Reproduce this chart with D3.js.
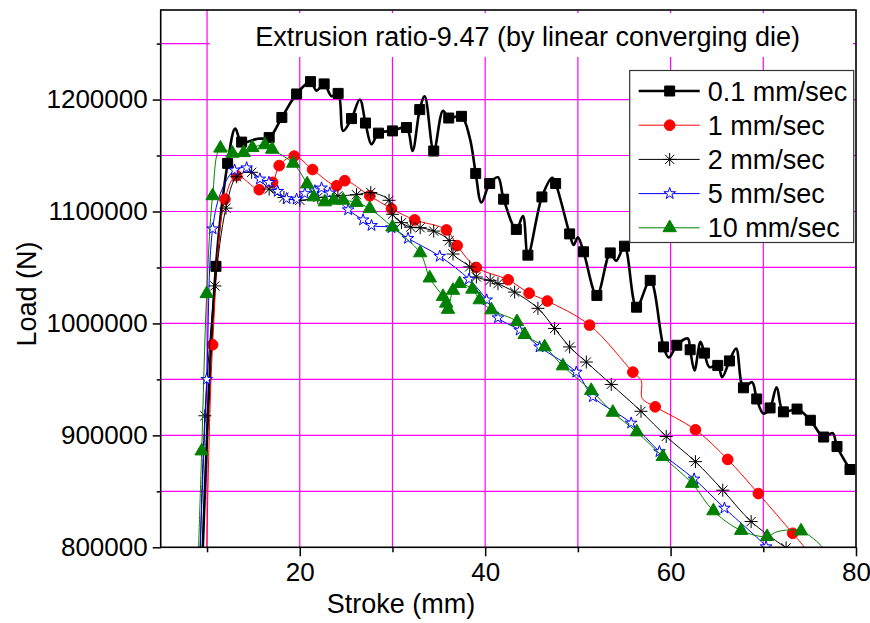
<!DOCTYPE html>
<html>
<head>
<meta charset="utf-8">
<script src="https://cdn.jsdelivr.net/npm/d3@7"></script>
<style>
  body { margin: 0; background: #fff; }
  svg { display: block; font-family: 'Liberation Sans', Arial, sans-serif; }
</style>
</head>
<body>
<div id="chart"></div>
<script>
// each row: [stroke (mm), load (N), 1 = marker drawn]
const speed01 = [
  [9.5, 790000, 0], [10.96, 1051000, 1], [12.22, 1143000, 1], [13.04, 1174000, 0],
  [13.73, 1162000, 1], [15.48, 1165000, 0], [16.70, 1166000, 1], [18.07, 1184000, 1],
  [19.66, 1205000, 1], [21.16, 1216000, 1], [21.81, 1208000, 0], [22.63, 1214000, 1],
  [23.43, 1203000, 0], [24.14, 1205500, 1], [24.68, 1172000, 0], [25.58, 1183000, 1],
  [26.48, 1200000, 0], [27.09, 1179000, 1], [27.74, 1160000, 0], [28.49, 1170000, 1],
  [30.00, 1172000, 1], [31.51, 1175000, 1], [32.16, 1154000, 0], [32.94, 1191000, 1],
  [33.48, 1203000, 0], [34.45, 1154000, 1], [35.45, 1190000, 0], [36.07, 1183500, 1],
  [37.44, 1185000, 1], [38.33, 1166000, 0], [38.98, 1134000, 1], [39.59, 1108000, 0],
  [40.49, 1125000, 1], [41.38, 1130500, 0], [41.99, 1111000, 1], [43.36, 1084000, 1],
  [44.07, 1096000, 0], [44.61, 1061000, 1], [46.12, 1113000, 1], [47.24, 1130000, 0],
  [47.60, 1125000, 1], [49.11, 1080000, 1], [49.54, 1070000, 0], [50.00, 1077000, 0],
  [50.61, 1064000, 1], [52.05, 1025000, 1], [53.49, 1063000, 1], [54.14, 1056000, 0],
  [55.03, 1069000, 1], [56.33, 1014500, 1], [57.80, 1038500, 1], [59.24, 979000, 1],
  [59.81, 969500, 0], [60.67, 980500, 1], [61.85, 986500, 0], [62.11, 976500, 1],
  [62.58, 958000, 0], [63.22, 983500, 0], [63.65, 973500, 1], [64.19, 961000, 0],
  [65.09, 962500, 1], [65.56, 952000, 0], [66.35, 966500, 1], [67.07, 977500, 0],
  [67.86, 942500, 1], [68.79, 947500, 0], [69.29, 932500, 1], [70.01, 919500, 0],
  [70.73, 924500, 1], [71.44, 943000, 0], [72.17, 921000, 1], [73.64, 923500, 1],
  [75.08, 913500, 1], [76.51, 898500, 1], [77.48, 902000, 0], [77.95, 890000, 1],
  [79.35, 869500, 1]
];
const speed1 = [
  [9.95, 790000, 0], [10.60, 981000, 1], [11.93, 1111000, 1], [13.19, 1132000, 1],
  [15.63, 1119500, 1], [17.07, 1126000, 1], [17.78, 1141000, 1], [19.40, 1149500, 1],
  [21.38, 1137500, 1], [23.97, 1123000, 1], [24.86, 1127500, 1], [27.55, 1114000, 1],
  [29.89, 1102500, 1], [32.40, 1092500, 1], [35.82, 1083500, 1], [36.98, 1069500, 1],
  [39.05, 1050000, 1], [42.48, 1039000, 1], [44.74, 1027000, 1], [46.70, 1020000, 1],
  [51.26, 998500, 1], [55.93, 956500, 1], [56.83, 949000, 0], [56.94, 933000, 0],
  [58.34, 925500, 1], [62.68, 905000, 1], [66.16, 878500, 1], [69.47, 848000, 1],
  [73.17, 812500, 1], [74.43, 800000, 0], [74.9, 793000, 0]
];
const speed2 = [
  [9.25, 790000, 0], [9.77, 917500, 1], [10.85, 1033500, 1], [12.04, 1103000, 1],
  [13.19, 1131000, 1], [14.81, 1135000, 1], [16.70, 1120000, 1], [18.29, 1112500, 1],
  [20.01, 1110000, 1], [21.95, 1112500, 1], [24.11, 1114000, 1], [26.12, 1115000, 1],
  [27.66, 1117000, 1], [29.63, 1110000, 1], [30.00, 1097500, 1], [30.97, 1090000, 1],
  [31.97, 1086000, 1], [32.99, 1085500, 1], [34.45, 1082500, 1], [36.12, 1074000, 1],
  [36.53, 1062000, 1], [38.33, 1050500, 1], [39.05, 1041500, 1], [40.54, 1038500, 1],
  [41.38, 1035500, 1], [43.18, 1028000, 1], [45.69, 1013500, 1], [47.49, 995500, 1],
  [49.11, 979000, 1], [50.91, 965500, 1], [53.60, 945500, 1], [56.81, 921500, 1],
  [59.53, 899000, 1], [62.68, 876500, 1], [65.63, 851000, 1], [68.69, 823000, 1],
  [72.46, 799500, 1]
];
const speed5 = [
  [9.2, 790000, 0], [9.96, 950000, 1], [10.60, 1084500, 1], [11.55, 1118500, 0],
  [12.97, 1137000, 1], [14.27, 1139000, 1], [15.70, 1129000, 1], [16.67, 1126000, 1],
  [17.62, 1118000, 1], [18.58, 1111500, 1], [19.66, 1111000, 1], [20.55, 1116000, 1],
  [21.63, 1118500, 1], [22.35, 1121000, 1], [23.24, 1116500, 1], [25.22, 1101500, 1],
  [26.83, 1092500, 1], [27.74, 1087500, 1], [29.89, 1085500, 1], [31.68, 1076000, 1],
  [35.10, 1060000, 1], [38.25, 1039500, 1], [40.16, 1021000, 1], [41.38, 1005000, 1],
  [43.72, 994000, 1], [45.87, 979000, 1], [49.83, 956500, 1], [51.62, 934500, 1],
  [55.75, 911000, 1], [58.80, 885500, 1], [62.54, 861000, 1], [65.81, 835000, 1],
  [70.30, 800500, 1], [70.6, 796000, 0]
];
const speed10 = [
  [9.05, 790000, 0], [9.42, 886000, 1], [9.96, 1026500, 1], [10.60, 1114000, 1],
  [11.44, 1156500, 1], [12.74, 1152000, 1], [13.95, 1152500, 1], [14.89, 1157000, 1],
  [16.24, 1159500, 1], [17.02, 1155500, 1], [19.29, 1143000, 1], [20.80, 1124500, 1],
  [21.52, 1113000, 1], [22.70, 1108500, 1], [23.64, 1110000, 1], [24.68, 1110000, 1],
  [26.12, 1108000, 1], [27.55, 1102500, 1], [30.00, 1086000, 1], [32.99, 1063000, 1],
  [34.02, 1040500, 1], [35.45, 1024000, 1], [35.80, 1018000, 1], [35.99, 1012500, 1],
  [36.53, 1029500, 1], [37.25, 1035500, 1], [38.62, 1030500, 1], [39.41, 1021000, 1],
  [40.67, 1012000, 1], [43.43, 1001500, 1], [44.26, 990000, 1], [46.41, 979000, 1],
  [48.38, 962000, 1], [51.44, 940000, 1], [53.77, 920500, 1], [56.36, 903000, 1],
  [59.16, 881000, 1], [62.33, 857000, 1], [64.62, 832500, 1], [67.61, 815000, 1],
  [70.41, 809500, 1], [71.5, 814000, 0], [74.07, 814500, 1], [76.40, 800000, 0],
  [76.6, 797000, 0]
];

const seriesNames = ['0.1 mm/sec', '1 mm/sec', '2 mm/sec', '5 mm/sec', '10 mm/sec'];
const xMajor = [20, 40, 60, 80];
const xMinor = [10, 30, 50, 70];
const yMajor = [800000, 900000, 1000000, 1100000, 1200000];
const yMinor = [850000, 950000, 1050000, 1150000, 1250000];
const xGrid = [10, 20, 30, 40, 50, 60, 70];
const yGrid = [850000, 900000, 950000, 1000000, 1050000, 1100000, 1150000, 1200000, 1250000];
const chartTitle = 'Extrusion ratio-9.47 (by linear converging die)';

const W = 870, H = 623;
const margin = { top: 10, right: 14, bottom: 75.7, left: 160.7 };
const width = W - margin.left - margin.right;
const height = H - margin.top - margin.bottom;

const svg = d3.select('#chart').append('svg')
  .attr('width', W)
  .attr('height', H);

const x = d3.scaleLinear().domain([5, 80]).range([0, width]);
const y = d3.scaleLinear().domain([800000, 1280000]).range([height, 0]);

const g = svg.append('g')
  .attr('transform', `translate(${margin.left},${margin.top})`);

g.append('clipPath').attr('id', 'plot-clip')
  .append('rect').attr('width', width).attr('height', height);

// magenta grid
g.append('g').selectAll('line').data(xGrid).enter().append('line')
  .attr('x1', d => x(d)).attr('x2', d => x(d))
  .attr('y1', 0).attr('y2', height)
  .attr('stroke', '#ff00ff').attr('stroke-width', 1.2);
g.append('g').selectAll('line').data(yGrid).enter().append('line')
  .attr('x1', 0).attr('x2', width)
  .attr('y1', d => y(d)).attr('y2', d => y(d))
  .attr('stroke', '#ff00ff').attr('stroke-width', 1.2);

// title box sits over the grid
g.append('rect')
  .attr('x', 49).attr('y', 3)
  .attr('width', width - 52).attr('height', 44)
  .attr('fill', '#fff');
g.append('text')
  .attr('x', 367).attr('y', 36)
  .attr('text-anchor', 'middle')
  .attr('font-size', 27)
  .text(chartTitle);

// marker shapes
function asterisk(r) {
  const d = r * Math.SQRT1_2;
  return `M0,${-r}L0,${r}M${-r},0L${r},0M${-d},${-d}L${d},${d}M${-d},${d}L${d},${-d}`;
}
const styles = [
  { data: speed01, color: '#000', lw: 2.6, path: d3.symbol(d3.symbolSquare, 100)(), fill: '#000' },
  { data: speed1, color: '#ff0000', lw: 1, path: d3.symbol(d3.symbolCircle, 90)(), fill: '#ff0000' },
  { data: speed2, color: '#000', lw: 1, path: asterisk(6.5), fill: 'none' },
  { data: speed5, color: '#0000ff', lw: 1, path: d3.symbol(d3.symbolStar, 42)(), fill: '#fff' },
  { data: speed10, color: '#008000', lw: 1, path: d3.symbol(d3.symbolTriangle, 78)(), fill: '#008000' }
];

const line = d3.line()
  .x(d => x(d[0]))
  .y(d => y(d[1]))
  .curve(d3.curveCatmullRom.alpha(0.5));

const plot = g.append('g').attr('clip-path', 'url(#plot-clip)');
styles.forEach(s => {
  plot.append('path')
    .datum(s.data)
    .attr('d', line)
    .attr('fill', 'none')
    .attr('stroke', s.color)
    .attr('stroke-width', s.lw);
  plot.append('g').selectAll('path')
    .data(s.data.filter(d => d[2]))
    .enter().append('path')
    .attr('transform', d => `translate(${x(d[0])},${y(d[1])})`)
    .attr('d', s.path)
    .attr('fill', s.fill)
    .attr('stroke', s.color)
    .attr('stroke-width', 1);
});

// legend
const legend = g.append('g').attr('transform', 'translate(469,60.5)');
legend.append('rect')
  .attr('width', 224).attr('height', 172)
  .attr('fill', '#fff').attr('stroke', '#333').attr('stroke-width', 1.2);
styles.forEach((s, i) => {
  const ly = 20.5 + i * 34.2;
  legend.append('line')
    .attr('x1', 9).attr('x2', 70).attr('y1', ly).attr('y2', ly)
    .attr('stroke', s.color).attr('stroke-width', s.lw);
  legend.append('path')
    .attr('transform', `translate(40,${ly})`)
    .attr('d', s.path)
    .attr('fill', s.fill).attr('stroke', s.color).attr('stroke-width', 1);
  legend.append('text')
    .attr('x', 78).attr('y', ly + 9.5)
    .attr('font-size', 27)
    .text(seriesNames[i]);
});

// axes
const fmt = d3.format('d');
g.append('g')
  .attr('transform', `translate(0,${height})`)
  .call(d3.axisBottom(x).tickValues(xMajor).tickSize(9).tickPadding(6).tickFormat(fmt));
g.append('g')
  .attr('transform', `translate(0,${height})`)
  .call(d3.axisBottom(x).tickValues(xMinor).tickSize(5).tickFormat(''));
g.append('g')
  .call(d3.axisLeft(y).tickValues(yMajor).tickSize(8).tickPadding(5).tickFormat(fmt));
g.append('g')
  .call(d3.axisLeft(y).tickValues(yMinor).tickSize(4).tickFormat(''));
g.selectAll('.domain').remove();
g.selectAll('.tick line').attr('stroke', '#000').attr('stroke-width', 1.5);
g.selectAll('.tick text')
  .attr('font-size', 26)
  .attr('font-family', "'Liberation Sans', Arial, sans-serif")
  .attr('fill', '#000');

// frame
g.append('rect')
  .attr('width', width).attr('height', height)
  .attr('fill', 'none').attr('stroke', '#000').attr('stroke-width', 1.6);

// axis titles
svg.append('text')
  .attr('x', 401).attr('y', 613)
  .attr('text-anchor', 'middle')
  .attr('font-size', 27)
  .text('Stroke (mm)');
svg.append('text')
  .attr('transform', 'translate(36,294) rotate(-90)')
  .attr('text-anchor', 'middle')
  .attr('font-size', 27)
  .text('Load (N)');
</script>
</body>
</html>
